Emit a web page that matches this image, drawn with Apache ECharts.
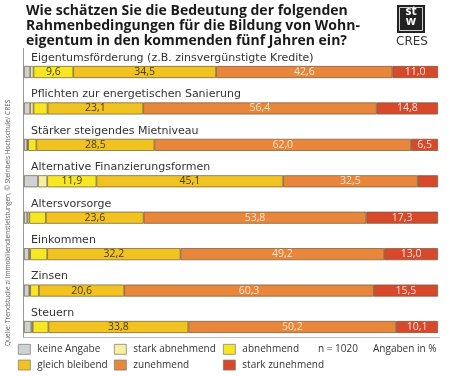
<!DOCTYPE html>
<html>
<head>
<meta charset="utf-8">
<script src="https://cdn.jsdelivr.net/npm/echarts@6/dist/echarts.min.js"></script>
<style>
  html, body { margin: 0; padding: 0; background: #fff; }
  #main { width: 450px; height: 376px; }
</style>
</head>
<body>
<div id="main"></div>
<script>
// Kategorien (von oben nach unten)
let categories = [
    'Eigentumsförderung (z.B. zinsvergünstigte Kredite)',
    'Pflichten zur energetischen Sanierung',
    'Stärker steigendes Mietniveau',
    'Alternative Finanzierungsformen',
    'Altersvorsorge',
    'Einkommen',
    'Zinsen',
    'Steuern'
]
// Angaben in %
let keineAngabe    = [1.5, 1.5, 0.8, 3.4, 0.8, 1.2, 1.3, 1.8]
let starkAbnehmend = [0.8, 0.8, 0.2, 2.2, 0.5, 0.3, 0.2, 0.3]
let abnehmend      = [9.6, 3.4, 2.0, 11.9, 4.0, 4.1, 2.1, 3.8]
let gleichBleibend = [34.5, 23.1, 28.5, 45.1, 23.6, 32.2, 20.6, 33.8]
let zunehmend      = [42.6, 56.4, 62.0, 32.5, 53.8, 49.2, 60.3, 50.2]
let starkZunehmend = [11.0, 14.8, 6.5, 4.9, 17.3, 13.0, 15.5, 10.1]

let fontFam = '"Open Sans", "Noto Sans", sans-serif'
let fmt = v => v.toFixed(1).replace('.', ',')

// Serie bauen, Beschriftung nur ab gewisser Breite
function mkSeries(name, data, color, labelColor, minLabel) {
    return {
        name: name,
        type: 'bar',
        stack: 'all',
        barWidth: 12,
        data: data,
        itemStyle: { color: color, borderColor: '#6b5a3a', borderWidth: 0.7 },
        label: {
            show: minLabel != null,
            position: 'inside',
            color: labelColor,
            fontSize: 10.5,
            fontFamily: fontFam,
            formatter: p => (minLabel != null && p.value >= minLabel) ? fmt(p.value) : ''
        },
        emphasis: { disabled: true }
    }
}

let first = mkSeries('keine Angabe', keineAngabe, '#cdd2d4', '#333', null)
// Kategorie-Beschriftung über dem Balken
first.label = {
    show: true,
    position: [7, -8],
    align: 'left',
    verticalAlign: 'middle',
    color: '#333',
    fontSize: 11,
    fontFamily: '"DejaVu Sans", sans-serif',
    formatter: p => categories[p.dataIndex]
}

let chart = echarts.init(document.getElementById('main'))
let option = {
    backgroundColor: '#fff',
    animation: false,
    title: {
        text: 'Wie schätzen Sie die Bedeutung der folgenden\nRahmenbedingungen für die Bildung von Wohn-\neigentum in den kommenden fünf Jahren ein?',
        left: 21,
        top: -1,
        textStyle: { fontSize: 14, fontWeight: 'bold', color: '#1a1a1a', lineHeight: 15, fontFamily: fontFam }
    },
    grid: { left: 24, right: 12, top: 53.8, height: 291.4 },
    xAxis: { type: 'value', min: 0, max: 100, show: false },
    yAxis: {
        type: 'category',
        data: categories,
        inverse: true,
        show: false
    },
    legend: [
        { left: 18, top: 344, orient: 'vertical', data: ['keine Angabe', 'gleich bleibend'] },
        { left: 114, top: 344, orient: 'vertical', data: ['stark abnehmend', 'zunehmend'] },
        { left: 223, top: 344, orient: 'vertical', data: ['abnehmend', 'stark zunehmend'] }
    ].map(l => Object.assign(l, {
        itemWidth: 12, itemHeight: 10, itemGap: 5, padding: 0,
        icon: 'rect',
        selectedMode: false,
        itemStyle: { borderColor: '#777', borderWidth: 0.7 },
        textStyle: { fontSize: 10, color: '#333', fontFamily: fontFam, padding: [0, 0, 0, 2] }
    })),
    graphic: [
        // Achsen
        { type: 'line', shape: { x1: 23.5, y1: 48, x2: 23.5, y2: 337 }, style: { stroke: '#999', lineWidth: 1 } },
        { type: 'line', shape: { x1: 23, y1: 337.5, x2: 440, y2: 337.5 }, style: { stroke: '#bbb', lineWidth: 1 } },
        // Logo
        { type: 'rect', shape: { x: 397, y: 5, width: 28, height: 28 }, style: { fill: '#222' } },
        { type: 'rect', shape: { x: 399.5, y: 7.5, width: 23, height: 23 }, style: { fill: 'none', stroke: '#fff', lineWidth: 0.8 } },
        { type: 'text', style: { x: 411, y: 6, text: 'st', fill: '#fff', fontSize: 12, fontWeight: 'bold', align: 'center', fontFamily: fontFam } },
        { type: 'text', style: { x: 411, y: 16, text: 'w', fill: '#fff', fontSize: 12, fontWeight: 'bold', align: 'center', fontFamily: fontFam } },
        { type: 'text', style: { x: 412, y: 36, text: 'CRES', fill: '#333', fontSize: 12, align: 'center', fontFamily: '"DejaVu Sans", sans-serif' } },
        // Quelle
        { type: 'text', x: 5, y: 346, rotation: Math.PI / 2, style: { x: 0, y: 0, text: 'Quelle: Trendstudie zi Immobiliendienstleistungen, © Steinbeis Hochschule/ CRES', fill: '#666', fontSize: 6.5, fontFamily: fontFam } },
        // Zusatzangaben
        { type: 'text', style: { x: 318, y: 344, text: 'n = 1020', fill: '#333', fontSize: 10, fontFamily: fontFam } },
        { type: 'text', style: { x: 373, y: 344, text: 'Angaben in %', fill: '#333', fontSize: 10, fontFamily: fontFam } }
    ],
    series: [
        first,
        mkSeries('stark abnehmend', starkAbnehmend, '#f6efa0', '#333', null),
        mkSeries('abnehmend', abnehmend, '#f6e722', '#4a3a10', 8),
        mkSeries('gleich bleibend', gleichBleibend, '#f1c320', '#4a3a10', 5),
        mkSeries('zunehmend', zunehmend, '#e8873c', '#fbe3cc', 5),
        mkSeries('stark zunehmend', starkZunehmend, '#d8482b', '#fbe0d6', 6)
    ]
}
chart.setOption(option)
</script>
</body>
</html>
